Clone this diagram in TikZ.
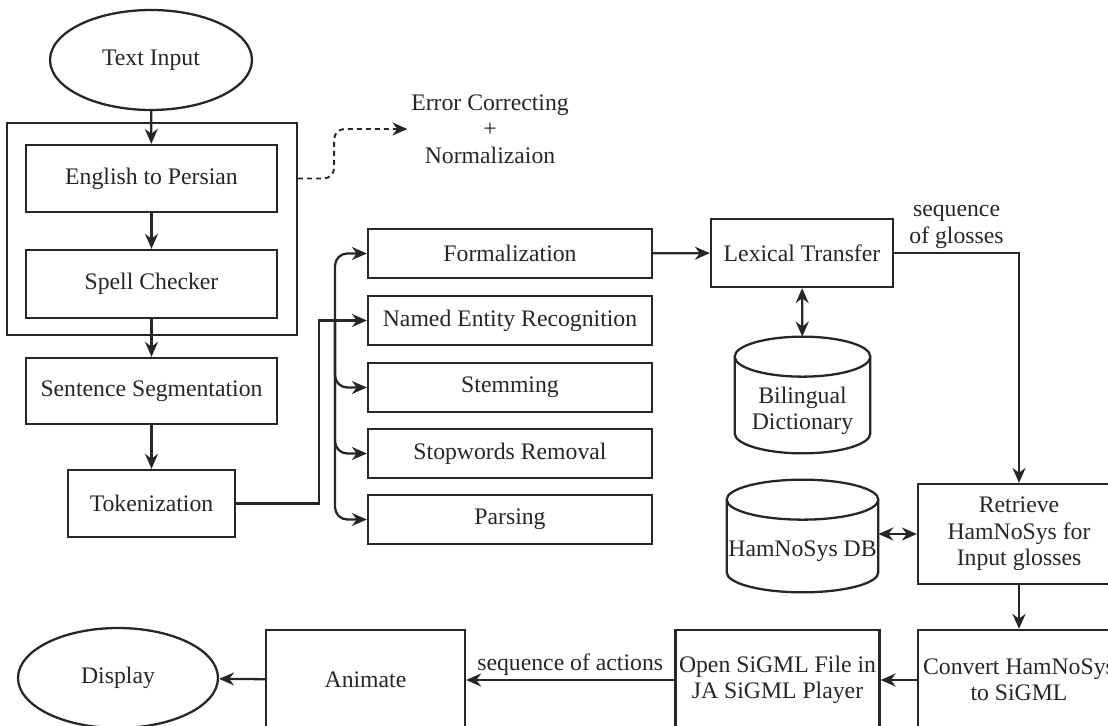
\documentclass[tikz,border=0pt]{standalone}
\usepackage{fontspec}
\setmainfont{Liberation Serif}
\usetikzlibrary{arrows.meta,shapes.geometric,calc}

% outline of a database drum round a plain node
\newcommand\dbdrum[1]{%
  \draw[dbline] let \p1=(#1.north west), \p2=(#1.south east), \n1={0.5*(\x2-\x1)} in
    (\x1,\y1-0.4cm) -- (\x1,\y2+0.4cm) arc[start angle=180, end angle=360, x radius=\n1, y radius=0.4cm] -- (\x2,\y1-0.4cm)
    (\x1+\n1,\y1-0.4cm) ellipse[x radius=\n1, y radius=0.4cm];}

\begin{document}
\begin{tikzpicture}[
x=0.02cm, y=-0.02cm,
font=\fontsize{13.5}{15}\selectfont,
box/.style={draw=black!85, line width=1.3pt, text=black!85, align=center, inner sep=2pt},
oval/.style={box, ellipse},
dbnode/.style={inner sep=0pt},
dbline/.style={draw=black!85, line width=1.3pt},
arr/.style={draw=black!85, line width=1.3pt, -{Stealth[length=3mm,width=2.6mm]}},
darr/.style={arr, {Stealth[length=3mm,width=2.6mm]}-{Stealth[length=3mm,width=2.6mm]}},
note/.style={text=black!85, align=center, inner sep=2pt}
]

%% page
\useasboundingbox (0,0) rectangle (1108,726);

% % left column
\node[oval, minimum width=4.04cm, minimum height=2cm] (txtin) at (151,60) {Text Input};
\node[box, minimum width=5.02cm, minimum height=1.34cm] (eng) at (151.5,178.5) {English to Persian};
\node[box, minimum width=5.02cm, minimum height=1.36cm] (spell) at (151.5,284) {Spell Checker};
\node[box, minimum width=5.8cm, minimum height=4.24cm] (pre) at (152,229) {};
\node[box, minimum width=5.02cm, minimum height=1.32cm] (sentseg) at (151.5,391) {Sentence Segmentation};
\node[box, minimum width=3.34cm, minimum height=1.34cm] (token) at (151.5,503.5) {Tokenization};
\node[note] (errnorm) at (490,129) {Error Correcting\\+\\Normalizaion};

\draw[arr] (txtin) -- (eng);
\draw[arr] (eng) -- (spell);
\draw[arr] (spell) -- (sentseg);
\draw[arr] (sentseg) -- (token);
\draw[arr, line width=1.1pt, dash pattern=on 1mm off 0.8mm, rounded corners=6pt] (pre.east |- eng.east) -- ++(36,0) |- (errnorm.west);

% % analysis steps
\node[box, minimum width=5.68cm, minimum height=0.98cm] (form) at (510,253.5) {Formalization};
\node[box, minimum width=5.68cm, minimum height=0.98cm] (ner) at (510,320.5) {Named Entity Recognition};
\node[box, minimum width=5.68cm, minimum height=0.98cm] (stem) at (510,387.5) {Stemming};
\node[box, minimum width=5.68cm, minimum height=0.98cm] (stop) at (510,453.5) {Stopwords Removal};
\node[box, minimum width=5.68cm, minimum height=0.98cm] (pars) at (510,519.5) {Parsing};
\coordinate (bus) at (335,320.5);

\draw[arr] (token.east) -- ++(83,0) |- (ner.west);
\foreach \n in {form,stem,stop,pars}
  \draw[arr, rounded corners=7pt] (bus) |- (\n.west);

% % transfer
\node[box, minimum width=3.64cm, minimum height=1.36cm] (lex) at (802,253) {Lexical Transfer};
\node[dbnode, minimum width=2.7cm, minimum height=2.32cm] (dict) at (802.5,395) {};
\node[note] (dictlbl) at (802.5,411) {Bilingual\\Dictionary};
\dbdrum{dict}
\node[box, minimum width=4.04cm, minimum height=2cm] (retr) at (1019,534) {Retrieve\\HamNoSys for\\Input glosses};
\node[dbnode, minimum width=3.02cm, minimum height=2.24cm] (hdb) at (802.5,536) {};
\node[note] (hdblbl) at (802.5,551) {HamNoSys DB};
\dbdrum{hdb}

\draw[arr] (form) -- (lex);
\draw[darr] (lex) -- (dict);
\draw[arr] (lex.east) -| node[note, pos=0.25, above] {sequence\\of glosses} (retr.north);
\draw[darr] (hdb.east |- retr.west) -- (retr.west);

% % output
\node[box, minimum width=4.04cm, minimum height=2cm] (conv) at (1019,680) {Convert HamNoSys\\to SiGML};
\node[box, minimum width=4.02cm, minimum height=2cm] (open) at (777.5,680) {Open SiGML File in\\JA SiGML Player};
\node[box, minimum width=3.98cm, minimum height=2cm] (anim) at (365.5,680) {Animate};
\node[oval, minimum width=4cm, minimum height=2cm] (disp) at (118,678) {Display};

\draw[arr] (retr) -- (conv);
\draw[arr] (conv) -- (open);
\draw[arr] (open) -- node[note, above] {sequence of actions} (anim);
\draw[arr] (anim) -- (disp);
\end{tikzpicture}
\end{document}
